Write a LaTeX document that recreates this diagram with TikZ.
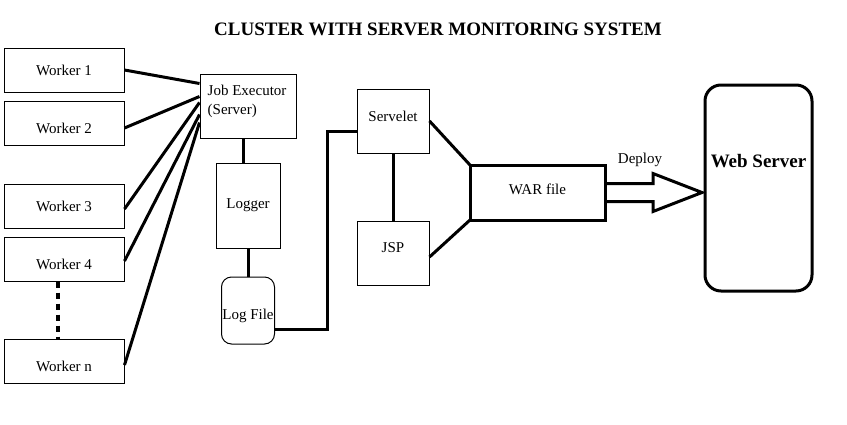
\documentclass[tikz,border=0pt]{standalone}
\usepackage{fontspec}
\setmainfont{Liberation Serif}
\usetikzlibrary{positioning,calc}

\begin{document}
\begin{tikzpicture}[
		x=1pt, y=-1pt,
		node distance=8pt,
		font=\fontsize{15}{19}\selectfont,
		box/.style={draw, line width=1pt, inner sep=0pt},
		worker/.style={box, minimum width=120, minimum height=44},
		heavy/.style={draw, line width=3pt, inner sep=0pt, outer sep=0pt},
		link/.style={line width=3pt},
	]
		\useasboundingbox (0,0) rectangle (847,424);
		\node (title) at (438,29) {\fontsize{19}{22}\selectfont\bfseries CLUSTER WITH SERVER MONITORING SYSTEM};

		\node (w1) at (64,70) [worker] {Worker 1};
		\node (w2) [worker, below=of w1, text height=21pt] {Worker 2};
		\node (w3) at (64,206) [worker] {Worker 3};
		\node (w4) [worker, below=of w3, text height=21pt] {Worker 4};
		\node (wn) at (64,361) [worker, text height=21pt] {Worker n};

		\node (job) at (248,106) [box, minimum width=96, minimum height=64,
			label={[anchor=north west, inner sep=0pt, align=left, xshift=8pt, yshift=-11.4pt]north west:Job Executor\\(Server)}] {};
		\node (logger) [box, below=24pt of job, minimum width=64, minimum height=85] {Logger};
		\node (log) [box, below=28pt of logger, rounded corners=10pt, minimum width=53, minimum height=67, text height=22pt] {Log File};

		\node (serv) at (393,121) [box, minimum width=72, minimum height=64, text depth=10pt] {Servelet};
		\node (jsp) [box, below=67pt of serv, minimum width=72, minimum height=64, text depth=10pt] {JSP};
		\node (war) at (537.5,192.5) [heavy, minimum width=135, minimum height=55, text depth=7pt] {WAR file};
		\node (web) at (758.5,188) [heavy, rounded corners=16pt, minimum width=107, minimum height=206,
			label={[anchor=center, yshift=-76pt, font=\fontsize{19}{22}\selectfont\bfseries]north:Web Server}] {};
		\node (deploy) at (640,159.5) {Deploy};

		% workers to the job executor
		\draw[link] (w1.east) -- ([yshift=-10pt]job.north west);
		\draw[link] ([yshift=-5pt]w2.east) -- ([yshift=-23pt]job.north west);
		\draw[link] ([yshift=-3pt]w3.east) -- ([yshift=-29pt]job.north west);
		\draw[link] ([yshift=-2pt]w4.east) -- ([yshift=-41pt]job.north west);
		\draw[link] ([yshift=-4pt]wn.east) -- ([yshift=-49pt]job.north west);
		\draw[link, line width=4pt, dash pattern=on 6pt off 5pt] ([xshift=-6pt]w4.south) -- ([xshift=-6pt]wn.north);

		\draw[link] ([xshift=-5pt]job.south) -- ([xshift=-5pt]logger.north);
		\draw[link] (logger.south) -- (log.north);
		\draw[link] ([yshift=-18.5pt]log.east) -- ++(52,0) |- ([yshift=-10pt]serv.west);

		\draw[link] (serv.south) -- (jsp.north);
		\draw[link] (serv.east) -- (war.north west);
		\draw[link] ([yshift=-4pt]jsp.east) -- (war.south west);

		% deploy arrow
		\draw[link] ($(war.east)+(0,-9)$) -- ++(48,0) -- ++(0,-10)
			-- ($(web.west |- war.east)+(-3,0)$) -- ($(war.east)+(48,19)$) -- ++(0,-10) -- ($(war.east)+(0,9)$);
	\end{tikzpicture}
\end{document}
